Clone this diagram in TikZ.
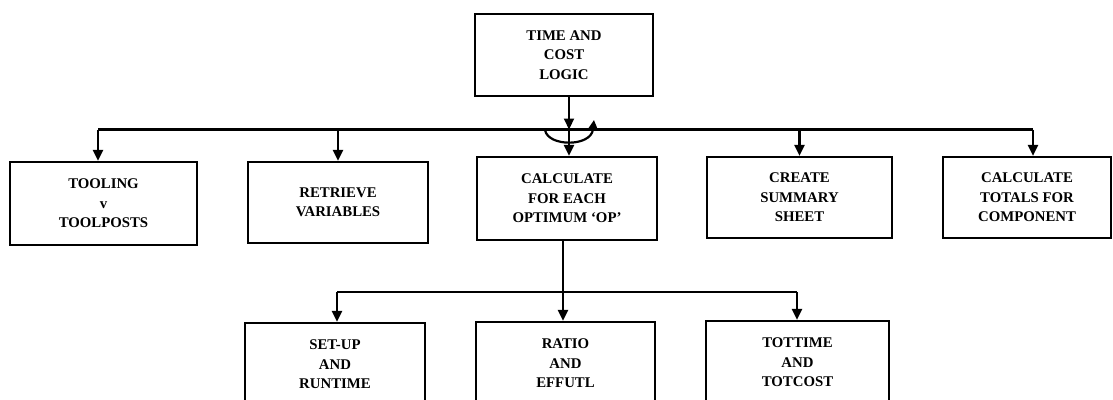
\documentclass[tikz,border=0pt]{standalone}
\usepackage{fontspec}
\setmainfont{Liberation Serif}
\usetikzlibrary{arrows.meta}
\begin{document}
\begin{tikzpicture}[x=1pt,y=-1pt,
  box/.style={draw, line width=2.2pt, align=center, inner sep=0pt,
    font=\fontsize{14.8}{19.5}\selectfont\bfseries},
  conn/.style={line width=2.2pt},
  arr/.style={conn, -{Triangle[length=11pt,width=10pt]}},
]
\useasboundingbox (0,0) rectangle (1113,399);
\begin{scope}
\clip (0,0) rectangle (1113,399);
% top
\node[box, minimum width=178pt, minimum height=82pt] (top) at (564,55) {TIME AND\\COST\\LOGIC};
% second row
\node[box, minimum width=187pt, minimum height=83pt] (b1) at (103.5,203.5) {TOOLING\\v\\TOOLPOSTS};
\node[box, minimum width=180pt, minimum height=81pt] (b2) at (338,202.5) {RETRIEVE\\VARIABLES};
\node[box, minimum width=180pt, minimum height=83pt] (b3) at (567,198.5) {CALCULATE\\FOR EACH\\OPTIMUM `OP'};
\node[box, minimum width=185pt, minimum height=81pt] (b4) at (799.5,197.5) {CREATE\\SUMMARY\\SHEET};
\node[box, minimum width=168pt, minimum height=81pt] (b5) at (1027,197.5) {CALCULATE\\TOTALS FOR\\COMPONENT};
% third row
\node[box, minimum width=180pt, minimum height=83pt] (b6) at (335,364.5) {SET-UP\\AND\\RUNTIME};
\node[box, minimum width=179pt, minimum height=83pt] (b7) at (565.5,363.5) {RATIO\\AND\\EFFUTL};
\node[box, minimum width=183pt, minimum height=83pt] (b8) at (797.5,362.5) {TOTTIME\\AND\\TOTCOST};

% junctions
\coordinate (j) at (569,129.5);
\coordinate (jl) at (98,129.5);
\coordinate (jr) at (1033,129.5);
\coordinate (k) at (563,292);
\coordinate (kl) at (337,292);
\coordinate (kr) at (797,292);

\draw[arr] (top.south -| j) -- (j);
\draw[conn] (jl) -- (jr);
\draw[arr] (jl) -- (jl |- b1.north);
\draw[arr] (j -| b2.north) -- (b2.north);
\draw[arr] (j) -- (j |- b3.north);
\draw[arr] (j -| b4.north) -- (b4.north);
\draw[arr] (jr) -- (jr |- b5.north);
% loop symbol
\draw[conn, -{Triangle[length=10pt,width=10pt]}] (545,130) .. controls (548,147) and (591,147) .. (594,120);

\draw[arr] (b3.south -| k) -- (k |- b7.north);
\draw[conn] (kl) -- (kr);
\draw[arr] (kl) -- (kl |- b6.north);
\draw[arr] (kr) -- (kr |- b8.north);
\end{scope}
\end{tikzpicture}
\end{document}
